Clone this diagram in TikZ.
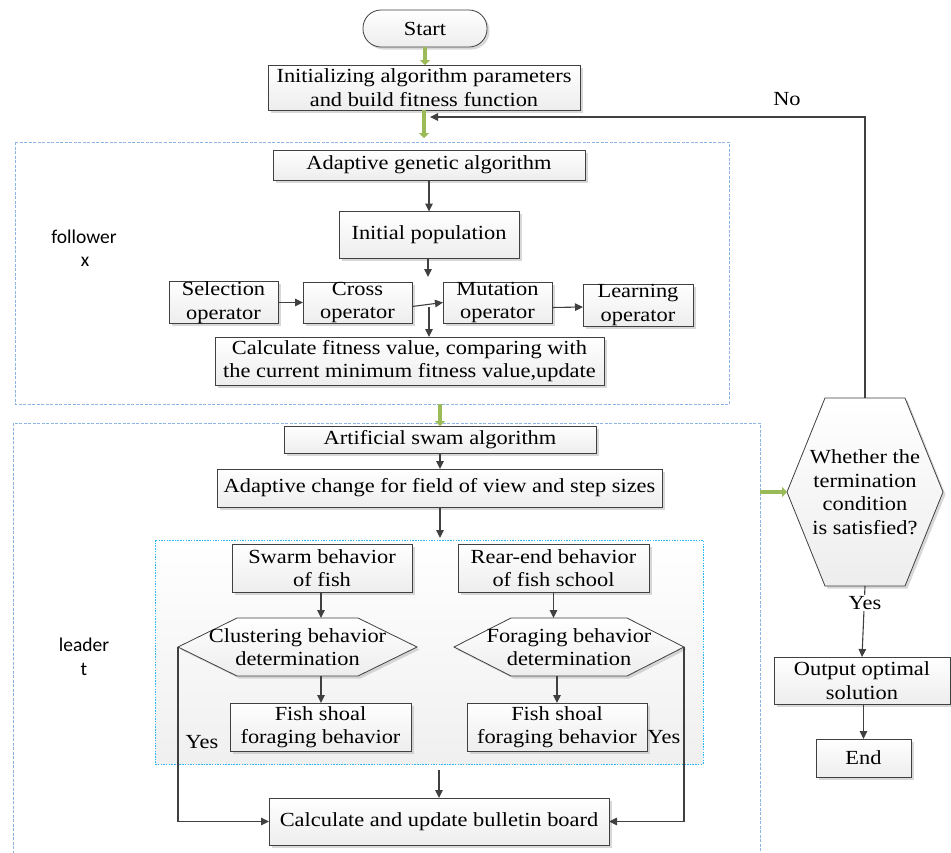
\documentclass[tikz,border=0pt]{standalone}
\usepackage{fontspec}
\setmainfont{Liberation Serif}[FakeStretch=1.12]
\newfontfamily\labfont{Carlito}
\usetikzlibrary{arrows.meta,shadows}
\definecolor{edgec}{HTML}{404040}
\definecolor{grn}{HTML}{9BBB59}
\definecolor{dashblue}{HTML}{8EB4E3}
\definecolor{cyanb}{HTML}{2DB7F0}
\newcommand\hexpath[2]{%
  \path[hexshape] (#1.west) -- ([xshift=#2]#1.north west) -- ([xshift=-#2]#1.north east)
   -- (#1.east) -- ([xshift=-#2]#1.south east) -- ([xshift=#2]#1.south west) -- cycle;}
\begin{document}
\begin{tikzpicture}[x=1pt,y=-1pt,
  font=\fontsize{20}{23.5}\selectfont,
  shd/.style={drop shadow={shadow xshift=2.5pt,shadow yshift=-2.5pt,fill=gray!60,opacity=0.5}},
  box/.style={draw=edgec,line width=0.8pt,top color=white,bottom color=gray!14,shd,
    align=center,inner sep=0pt,outer sep=0pt},
  hexbase/.style={inner sep=0pt,outer sep=0pt},
  hexshape/.style={draw=edgec,line width=0.8pt,top color=white,bottom color=gray!14,shd},
  txt/.style={align=center,inner sep=0pt},
  arr/.style={draw=edgec,line width=1.1pt,-{Triangle[length=8pt,width=7.5pt]}},
  garr/.style={draw=grn,line width=3.5pt,-{Triangle[length=5pt,width=10pt]}},
  lab/.style={font=\labfont\fontsize{19.5}{22}\selectfont,inner sep=0pt}]
\useasboundingbox (0,0) rectangle (951,852);
\fill[white] (0,0) rectangle (951,852);

% containers
\draw[dashblue,line width=0.9pt,dash pattern=on 3pt off 1.5pt] (15,142) rectangle (729,404);
\draw[dashblue,line width=0.9pt,dash pattern=on 3pt off 1.5pt] (13,423) rectangle (760,880);
\shade[top color=white,bottom color=gray!12] (155,540) rectangle (703,764);
\draw[cyanb,line width=0.9pt,dash pattern=on 1.5pt off 1.2pt] (155,540) rectangle (703,764);
\coordinate (fbot) at (440,404);
\coordinate (lright) at (760,492);
\coordinate (ptop) at (424,138);

% top
\node[box,rounded corners=18pt,minimum width=124pt,minimum height=37pt] (start) at (425,28.5) {Start};
\node[box,minimum width=312pt,minimum height=45pt] (init) at (424,87.5) {Initializing algorithm parameters\\and build fitness function};

% follower
\node[lab] (fol) at (84,237) {follower};
\node[lab] (folx) at (85,262) {x};
\node[box,minimum width=312pt,minimum height=30pt] (ga) at (429,165) {Adaptive genetic algorithm};
\node[box,minimum width=180pt,minimum height=47pt] (pop) at (429,235) {Initial population};
\node[box,minimum width=109pt,minimum height=41pt] (sel) at (223.5,302.5) {Selection\\operator};
\node[box,minimum width=109pt,minimum height=41pt] (cross) at (357.5,302.5) {Cross\\operator};
\node[box,minimum width=109pt,minimum height=41pt] (mut) at (497.5,302.5) {Mutation\\operator};
\node[box,minimum width=110pt,minimum height=42pt] (learn) at (638,305) {Learning\\operator};
\node[box,minimum width=389pt,minimum height=48pt] (calc) at (409.5,361) {Calculate fitness value, comparing with\\the current minimum fitness value,update};
\coordinate (j1) at (428,277);
\coordinate (j2) at (429,307);

% leader
\node[lab] (lead) at (84,645) {leader};
\node[lab] (leadt) at (84,669) {t};
\node[box,minimum width=312pt,minimum height=27pt] (swarm) at (440,439.5) {Artificial swam algorithm};
\node[box,minimum width=445pt,minimum height=38pt] (adapt) at (439.5,488) {Adaptive change for field of view and step sizes};
\coordinate (itop) at (440,538);
\node[box,minimum width=180pt,minimum height=48pt] (swf) at (322,568) {Swarm behavior\\of fish};
\node[box,minimum width=191pt,minimum height=48pt] (rear) at (553.5,568) {Rear-end behavior\\of fish school};

\node[hexbase,minimum width=239pt,minimum height=58pt] (clus) at (297.5,647) {};
\hexpath{clus}{59pt}
\node[txt] (clust) at (clus) {Clustering behavior\\determination};
\node[hexbase,minimum width=230pt,minimum height=58pt] (forg) at (569,647) {};
\hexpath{forg}{57pt}
\node[txt] (forgt) at (forg) {Foraging behavior\\determination};

\node[box,minimum width=181pt,minimum height=48pt] (fishL) at (320.5,727) {Fish shoal\\foraging behavior};
\node[box,minimum width=180pt,minimum height=48pt] (fishR) at (557,727) {Fish shoal\\foraging behavior};
\coordinate (ibot) at (439,770);
\node[box,minimum width=340pt,minimum height=47pt] (upd) at (439,821.5) {Calculate and update bulletin board};
\node[txt] (yesL) at (202,742) {Yes};
\node[txt] (yesR) at (664,737) {Yes};

% right column
\node[hexbase,minimum width=156pt,minimum height=188pt] (term) at (865,492) {};
\hexpath{term}{38pt}
\node[txt] (termt) at (865,492) {Whether the\\termination\\condition\\is satisfied?};
\node[box,minimum width=176pt,minimum height=47pt] (out) at (862,680.5) {Output optimal\\solution};
\node[box,minimum width=95pt,minimum height=38pt] (end) at (863.5,758) {End};
\coordinate (fb) at (430,117);
\node[txt] (no) at (787,99) {No};

% green connectors
\draw[garr] (start.south) -- (start.south |- init.north);
\draw[garr] (init.south -| ptop) -- (ptop);
\draw[garr] (fbot) -- (swarm.north);
\draw[garr] (lright) -- (term.west);

% connectors
\draw[arr] (term.north) |- (fb);
\draw[arr] (ga.south) -- (pop.north);
\draw[arr] (pop.south -| j1) -- (j1);
\draw[arr] (sel.east) -- (cross.west);
\draw[arr] ([yshift=-4pt]cross.east) -- (mut.west);
\draw[arr] ([yshift=-5pt]mut.east) -- ([yshift=-2pt]learn.west);
\draw[arr] (j2) -- (j2 |- calc.north);
\draw[arr] (swarm.south) -- (swarm.south |- adapt.north);
\draw[arr] (adapt.south -| itop) -- (itop);
\draw[arr] ([xshift=-1pt]swf.south) -- ([xshift=-1pt]swf.south |- clus.north);
\draw[arr] ([xshift=-1pt]swf.south |- clus.south) -- ([xshift=-1pt]swf.south |- fishL.north);
\draw[arr] (rear.south) -- (rear.south |- forg.north);
\draw[arr] (fishR.north |- forg.south) -- (fishR.north);
\draw[arr] (clus.west) |- (upd.west);
\draw[arr] (forg.east) |- (upd.east);
\draw[arr] (ibot) -- (ibot |- upd.north);
\draw[arr] (term.south) -- (out.north);
\node[txt,fill=white,inner sep=1pt] (yesT) at (865,603) {Yes};
\draw[arr] (out.south -| end.north) -- (end.north);
\end{tikzpicture}
\end{document}
